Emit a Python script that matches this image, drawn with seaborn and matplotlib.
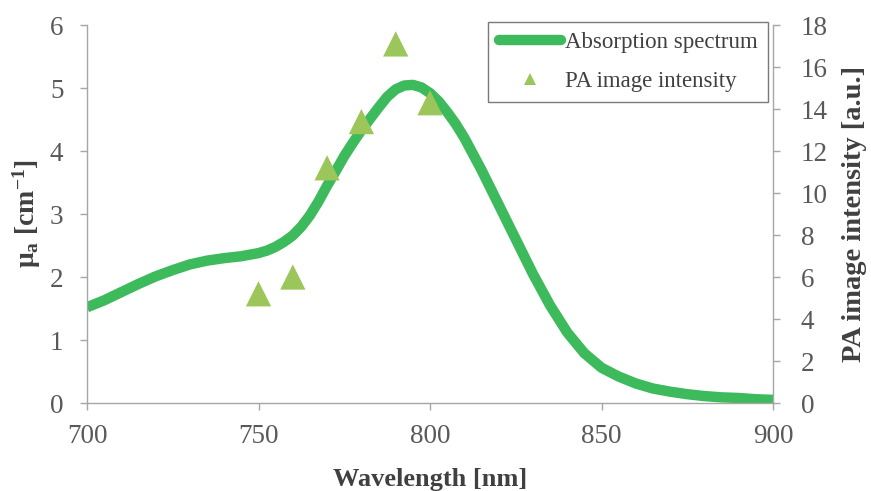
import matplotlib
matplotlib.use("Agg")
import matplotlib.pyplot as plt
import seaborn as sns
import pandas as pd
from matplotlib.lines import Line2D

# Absorption spectrum (mu_a, cm^-1), finer sampling around the peak
wavelength_nm = [700, 705, 710, 715, 720, 725, 730, 735, 740, 745,
                 750, 752.5, 755, 757.5, 760, 762.5, 765, 767.5, 770, 772.5,
                 775, 777.5, 780, 782.5, 785, 787.5, 790, 792.5, 795, 797.5,
                 800, 802.5, 805, 807.5, 810, 815, 820, 825, 830, 835,
                 840, 845, 850, 855, 860, 865, 870, 875, 880, 885,
                 890, 895, 900]
mu_a = [1.52, 1.63, 1.76, 1.89, 2.01, 2.11, 2.20, 2.26, 2.30, 2.33,
        2.38, 2.42, 2.48, 2.56, 2.66, 2.80, 2.98, 3.20, 3.45, 3.68,
        3.92, 4.13, 4.33, 4.51, 4.69, 4.86, 4.98, 5.04, 5.05, 5.01,
        4.92, 4.79, 4.62, 4.43, 4.21, 3.70, 3.15, 2.60, 2.05, 1.55,
        1.12, 0.79, 0.56, 0.42, 0.31, 0.23, 0.18, 0.14, 0.11, 0.09,
        0.08, 0.06, 0.05]

# Photoacoustic image intensity at the imaging wavelengths
pa_wavelength_nm = [750, 760, 770, 780, 790, 800]
pa_intensity = [5.2, 6.0, 11.2, 13.4, 17.1, 14.3]

x_ticks = [700, 750, 800, 850, 900]
left_ticks = [0, 1, 2, 3, 4, 5, 6]
right_ticks = [0, 2, 4, 6, 8, 10, 12, 14, 16, 18]

spectrum = pd.DataFrame({"wavelength": wavelength_nm, "mu_a": mu_a})
pa = pd.DataFrame({"wavelength": pa_wavelength_nm, "intensity": pa_intensity})

sns.set_theme(style="white")
plt.rcParams["font.family"] = ["Liberation Serif", "DejaVu Serif"]
plt.rcParams["mathtext.fontset"] = "custom"
plt.rcParams["mathtext.rm"] = "Liberation Serif"
plt.rcParams["mathtext.it"] = "Liberation Serif:italic"
plt.rcParams["mathtext.bf"] = "Liberation Serif:bold"

LINE_GREEN = "#3dba5c"
TRI_GREEN = "#9cc65a"
AXIS_GRAY = "#a6a6a6"
TICK_TEXT = "#595959"
LABEL_TEXT = "#404040"

fig = plt.figure(figsize=(8.71, 4.91), dpi=100)
ax = fig.add_axes([0.0999, 0.1792, 0.7876, 0.7698])
ax2 = ax.twinx()

sns.lineplot(data=spectrum, x="wavelength", y="mu_a", ax=ax,
             color=LINE_GREEN, linewidth=7.5, solid_capstyle="butt",
             solid_joinstyle="round")
sns.scatterplot(data=pa, x="wavelength", y="intensity", ax=ax2,
                marker="^", s=330, color=TRI_GREEN, edgecolor="none",
                linewidth=0, zorder=5)

ax.set_xlim(700, 900)
ax.set_ylim(0, 6)
ax2.set_ylim(0, 18)
ax.set_xticks(x_ticks)
ax.set_yticks(left_ticks)
ax2.set_yticks(right_ticks)

for a in (ax, ax2):
    for side in ("top", "left", "right", "bottom"):
        a.spines[side].set_visible(False)
ax.spines["left"].set_visible(True)
ax.spines["bottom"].set_visible(True)
ax2.spines["right"].set_visible(True)
for sp in (ax.spines["left"], ax.spines["bottom"], ax2.spines["right"]):
    sp.set_color(AXIS_GRAY)
    sp.set_linewidth(1.0)

ax.tick_params(axis="both", which="major", direction="out", length=5,
               width=1.0, color=AXIS_GRAY, labelsize=19.5, labelcolor=TICK_TEXT,
               bottom=True, left=True)
ax.tick_params(axis="x", pad=10)
ax.tick_params(axis="y", pad=12)
ax2.tick_params(axis="y", which="major", direction="out", length=5,
                width=1.0, color=AXIS_GRAY, labelsize=19.5, labelcolor=TICK_TEXT,
                right=True, pad=15)

ax.set_xlabel("Wavelength [nm]", fontsize=19, fontweight="bold",
              color=LABEL_TEXT)
ax.set_ylabel(r"μ$_{\mathbf{a}}$ [cm$^{\mathbf{-1}}$]", fontsize=20,
              fontweight="bold", color=LABEL_TEXT)
ax2.set_ylabel("PA image intensity [a.u.]", fontsize=20.5, fontweight="bold",
               color=LABEL_TEXT)
ax.xaxis.set_label_coords(0.5, -0.171)
ax.yaxis.set_label_coords(-0.064, 0.5)
ax2.yaxis.set_label_coords(1.1, 0.5)

handles = [
    Line2D([], [], color=LINE_GREEN, linewidth=7.5, solid_capstyle="round"),
    Line2D([], [], color=TRI_GREEN, marker="^", linestyle="none",
           markersize=8, markeredgewidth=0),
]
leg = ax2.legend(handles, ["Absorption spectrum", "PA image intensity"],
                 loc="upper right", bbox_to_anchor=(0.993, 1.008),
                 frameon=True, fancybox=False, fontsize=16.5,
                 handlelength=2.7, handletextpad=0.2, borderpad=0.45,
                 labelspacing=0.75, borderaxespad=0.0)
leg.get_frame().set_edgecolor("#595959")
leg.get_frame().set_linewidth(1.0)
for t in leg.get_texts():
    t.set_color("#404040")

fig.savefig("out.png", dpi=100)
